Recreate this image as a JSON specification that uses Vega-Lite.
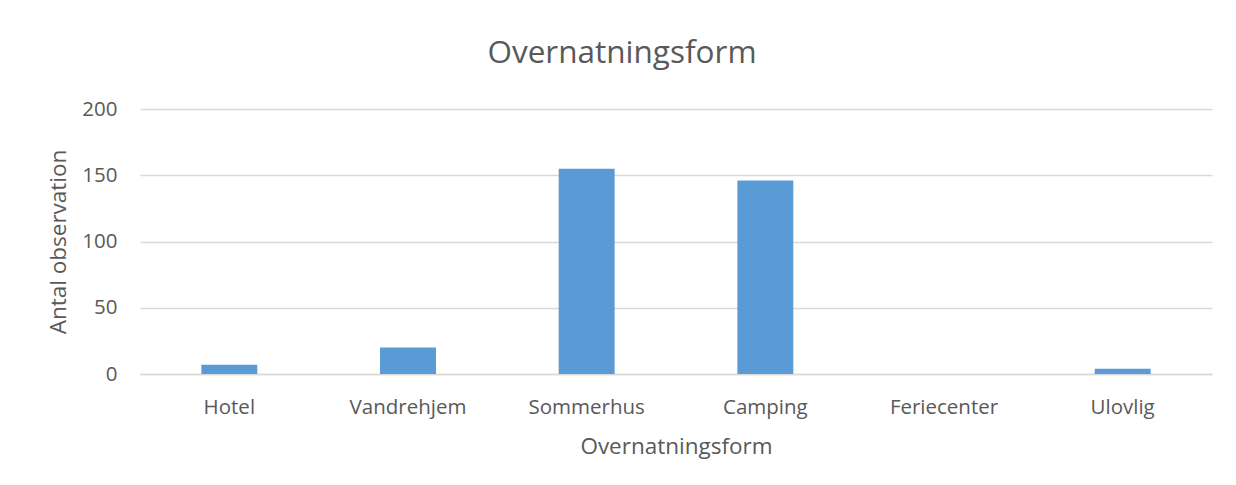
{
  "$schema": "https://vega.github.io/schema/vega-lite/v6.json",
  "width": 1072,
  "height": 265,
  "autosize": {"type": "none"},
  "padding": {"left": 140, "top": 109, "right": 24, "bottom": 111},
  "background": "white",
  "config": {
    "font": "Open Sans",
    "view": {"stroke": null}
  },
  "title": {
    "text": "Overnatningsform",
    "fontSize": 31.5,
    "fontWeight": "normal",
    "color": "#595959",
    "anchor": "middle",
    "baseline": "alphabetic",
    "offset": 5,
    "dx": -54
  },
  "data": {
    "values": [
      {"form": "Hotel", "antal": 7},
      {"form": "Vandrehjem", "antal": 20},
      {"form": "Sommerhus", "antal": 155},
      {"form": "Camping", "antal": 146},
      {"form": "Feriecenter", "antal": 0},
      {"form": "Ulovlig", "antal": 4}
    ]
  },
  "mark": {"type": "bar", "color": "#5B9BD5"},
  "encoding": {
    "x": {
      "field": "form",
      "type": "nominal",
      "sort": null,
      "scale": {"paddingInner": 0.687, "paddingOuter": 0.3435},
      "axis": {
        "title": "Overnatningsform",
        "titleFontSize": 22.5,
        "titleFontWeight": "normal",
        "titleColor": "#595959",
        "titleBaseline": "alphabetic",
        "titleY": 79,
        "labelAngle": 0,
        "labelFontSize": 20.5,
        "labelColor": "#595959",
        "labelPadding": 23,
        "ticks": false,
        "domainColor": "#D9D9D9",
        "domainWidth": 1.3
      }
    },
    "y": {
      "field": "antal",
      "type": "quantitative",
      "scale": {"domain": [0, 200], "nice": false},
      "axis": {
        "title": "Antal observation",
        "titleFontSize": 22.5,
        "titleFontWeight": "normal",
        "titleColor": "#595959",
        "titleBaseline": "alphabetic",
        "titleAngle": -90,
        "titleAlign": "center",
        "titleX": -75,
        "titleY": 132.5,
        "values": [0, 50, 100, 150, 200],
        "labelFontSize": 20.5,
        "labelColor": "#595959",
        "labelPadding": 23,
        "ticks": false,
        "domain": false,
        "grid": true,
        "gridColor": "#D9D9D9",
        "gridWidth": 1.3
      }
    }
  }
}
